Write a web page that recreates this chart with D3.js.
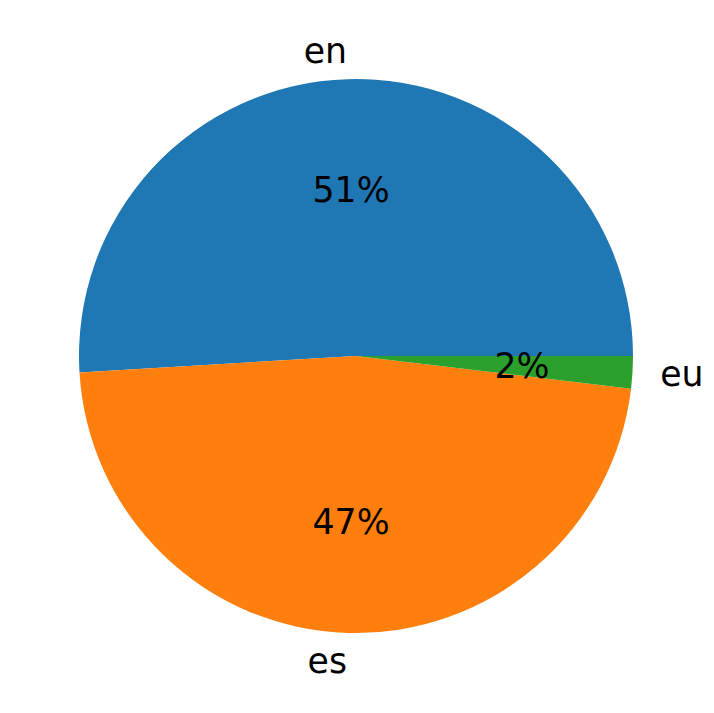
<!DOCTYPE html>
<html><head><meta charset="utf-8">
<script src="https://cdn.jsdelivr.net/npm/d3@7"></script>
<style>html,body{margin:0;padding:0;background:#fff;}</style>
</head><body>
<svg id="c" width="714" height="713"></svg>
<script>
const categories = ["en", "es", "eu"];
const counts = [27, 25, 1];
const colors = ["#1f77b4", "#ff7f0e", "#2ca02c"];

const W = 714, H = 713, cx = 356, cy = 356, R = 277;
const svg = d3.select("#c");
const g = svg.append("g").attr("transform", `translate(${cx},${cy})`);
const data = categories.map((c, i) => ({cat: c, v: counts[i], col: colors[i]}));
const total = d3.sum(counts);
const pie = d3.pie().value(d => d.v).sort(null)
  .startAngle(Math.PI / 2).endAngle(Math.PI / 2 - 2 * Math.PI);
const arcs = pie(data);
const arc = d3.arc().innerRadius(0).outerRadius(R);
g.selectAll("path.s").data(arcs).join("path").attr("class", "s")
  .attr("d", arc).attr("fill", d => d.data.col);
const font = "DejaVu Sans, sans-serif";
const fs = 34.7;
const lab = d3.arc().innerRadius(R * 1.1).outerRadius(R * 1.1);
const pct = d3.arc().innerRadius(R * 0.6).outerRadius(R * 0.6);
g.selectAll("text.l").data(arcs).join("text").attr("class", "l")
  .attr("x", d => lab.centroid(d)[0]).attr("y", d => lab.centroid(d)[1])
  .attr("text-anchor", d => lab.centroid(d)[0] < 0 ? "end" : "start")
  .attr("dominant-baseline", "central")
  .attr("font-family", font).attr("font-size", fs).attr("fill", "#000")
  .text(d => d.data.cat);
g.selectAll("text.p").data(arcs).join("text").attr("class", "p")
  .attr("x", d => pct.centroid(d)[0]).attr("y", d => pct.centroid(d)[1])
  .attr("text-anchor", "middle").attr("dominant-baseline", "central")
  .attr("font-family", font).attr("font-size", fs).attr("fill", "#000")
  .text(d => Math.round(100 * d.data.v / total) + "%");
</script>
</body></html>
